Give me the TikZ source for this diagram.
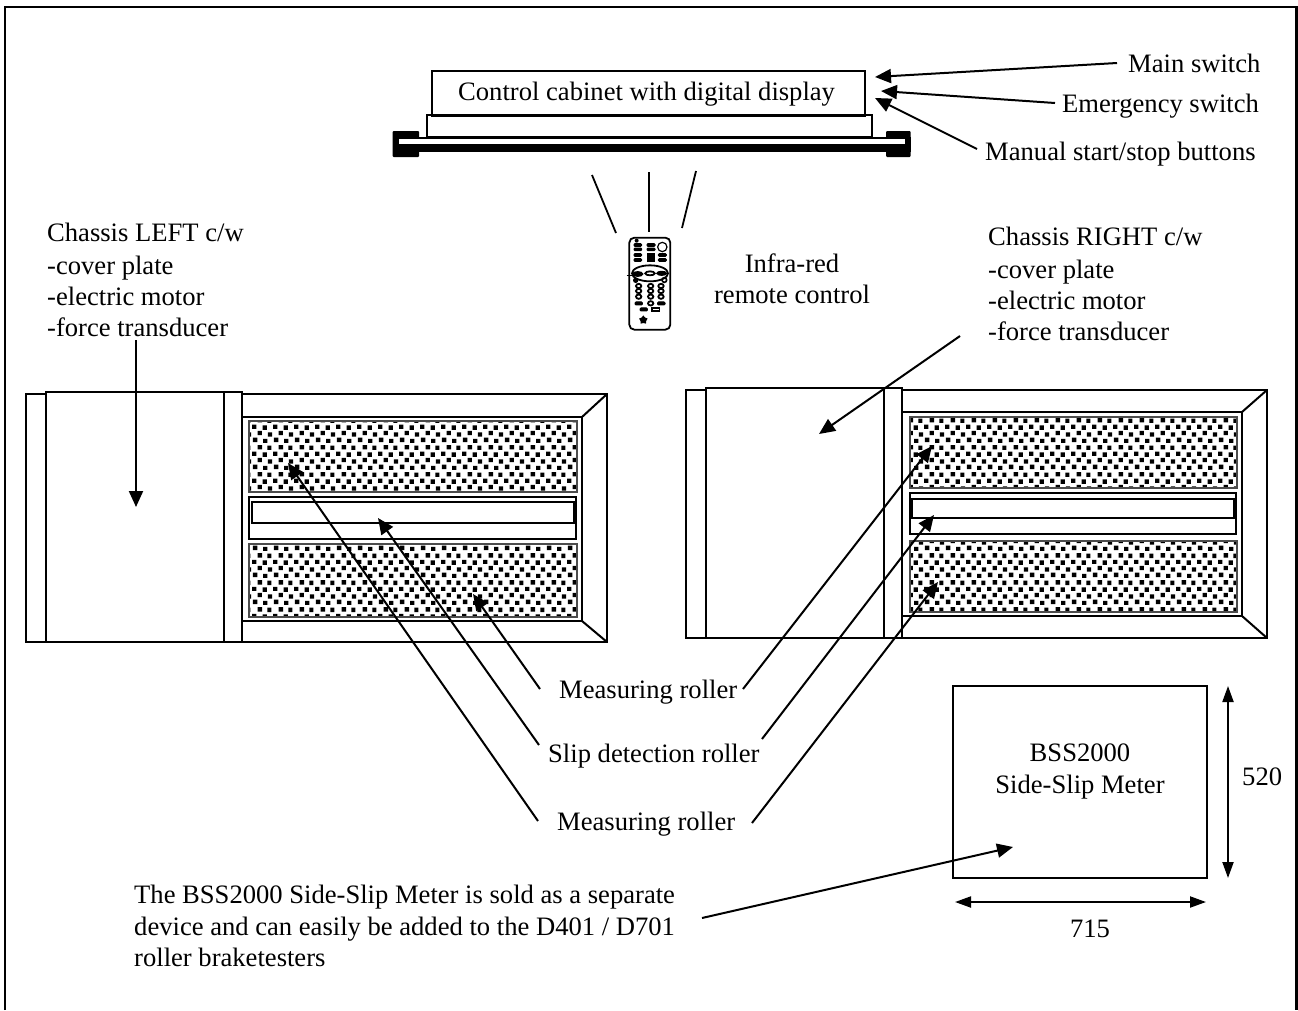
\documentclass[tikz,border=0pt]{standalone}
\usepackage{fontspec}
\setmainfont{Liberation Serif}
\usetikzlibrary{arrows.meta,patterns,shapes.geometric}
\pgfdeclarepatternformonly{stip}{\pgfqpoint{0pt}{0pt}}{\pgfqpoint{21pt}{27pt}}{\pgfqpoint{21pt}{27pt}}{%
  \pgfpathrectangle{\pgfqpoint{1pt}{1pt}}{\pgfqpoint{4.5pt}{4.5pt}}
  \pgfpathrectangle{\pgfqpoint{11.5pt}{0pt}}{\pgfqpoint{4.5pt}{4.2pt}}
  \pgfpathrectangle{\pgfqpoint{6pt}{8pt}}{\pgfqpoint{4.2pt}{4.5pt}}
  \pgfpathrectangle{\pgfqpoint{16.5pt}{6.5pt}}{\pgfqpoint{4.4pt}{4.5pt}}
  \pgfpathrectangle{\pgfqpoint{0pt}{14.5pt}}{\pgfqpoint{4.5pt}{4.2pt}}
  \pgfpathrectangle{\pgfqpoint{11pt}{13.5pt}}{\pgfqpoint{4.5pt}{4.5pt}}
  \pgfpathrectangle{\pgfqpoint{6pt}{21pt}}{\pgfqpoint{4.5pt}{4.5pt}}
  \pgfpathrectangle{\pgfqpoint{16pt}{20.5pt}}{\pgfqpoint{4.2pt}{4.5pt}}
  \pgfusepath{fill}}
\tikzset{
  x=1pt,y=-1pt,
  ln/.style={line width=2pt,draw=black,line cap=butt,line join=miter},
  arr/.style={line width=2pt,-{Triangle[length=16pt,width=14pt]}},
  dim/.style={line width=2pt,{Triangle[length=16pt,width=11pt]}-{Triangle[length=16pt,width=11pt]}},
  tick/.style={line width=1.8pt},
  lab/.style={anchor=base west,inner sep=0pt,font=\fontsize{26.6}{26.6}\selectfont},
  clab/.style={anchor=base,inner sep=0pt,font=\fontsize{26.6}{26.6}\selectfont},
  stipple/.style={draw=black!70,line width=1.4pt,pattern=stip,pattern color=black},
  pill/.style={fill=black,draw=black,rounded corners=1pt,line width=1pt},
}
\begin{document}
\begin{tikzpicture}
\useasboundingbox (0,0) rectangle (1298,1010);
% page frame
\draw[line width=2.2pt] (5,1010) -- (5,7) -- (1296.5,7) -- (1296.5,1010);

% control cabinet
\node[draw,ln,inner sep=0pt,minimum width=433pt,minimum height=45pt,anchor=north west] (cabinet) at (431,70) {};
\node[lab] (cabtxt) at (458,100) {Control cabinet with digital display};
\draw[ln] (427,115) rectangle (872,137);
% rail
\fill[rounded corners=1pt] (392.5,131) rectangle (419,157);
\fill[rounded corners=1pt] (886,131) rectangle (910.5,157);
\fill (392.5,136.5) rectangle (910.5,152);
\fill[white] (399,138.5) rectangle (905,144);

% labels top right
\node[lab] (mainsw) at (1128,72) {Main switch};
\node[lab] (emerg) at (1062,112) {Emergency switch};
\node[lab] (manual) at (985,160) {Manual start/stop buttons};
\coordinate (a1s) at (1117,63); \coordinate (a1e) at (875,77);
\coordinate (a2s) at (1055,103); \coordinate (a2e) at (881,91);
\coordinate (a3s) at (977,149); \coordinate (a3e) at (875,98);
\draw[arr] (a1s) -- (a1e);
\draw[arr] (a2s) -- (a2e);
\draw[arr] (a3s) -- (a3e);

% IR ticks
\coordinate (t1a) at (592,175); \coordinate (t1b) at (616,233);
\coordinate (t2a) at (649,172); \coordinate (t2b) at (649,232);
\coordinate (t3a) at (696,171); \coordinate (t3b) at (682,228);
\draw[tick] (t1a) -- (t1b);
\draw[tick] (t2a) -- (t2b);
\draw[tick] (t3a) -- (t3b);

% remote control
\begin{scope}[shift={(590,225)},x=.3333pt,y=-.3333pt]
  \draw[line width=1.8pt,rounded corners=5pt] (118,38) rectangle (241,314);
  \fill (140,47) circle (6);
  \foreach \y in {60,73,90,105} \draw[pill] (132,\y-4) rectangle (155,\y+4);
  \foreach \y in {60,73} \draw[pill] (171,\y-4) rectangle (195,\y+4);
  \fill (172,84) rectangle (194,112);
  \draw[line width=1.2pt] (217,66) circle (14);
  \foreach \y in {90,105} \draw[pill] (205,\y-4) rectangle (229,\y+4);
  \draw[line width=1.8pt] (180,145) ellipse (54 and 24);
  \draw[line width=1.8pt,fill=black] (143,147) ellipse (14 and 6);
  \draw[line width=1.8pt] (180,145) ellipse (14 and 6);
  \draw[line width=1.8pt,fill=black] (215,145) ellipse (13 and 5);
  \draw[line width=.7pt] (110,150) -- (135,150);
  \fill (137,166) circle (8);
  \draw[line width=1.6pt] (223,165) circle (7);
  \foreach \x in {146,182,213} \foreach \y in {183,198,215}
     \draw[line width=1.8pt] (\x,\y) ellipse (8 and 6.5);
  \draw[pill] (135,231) rectangle (157,240);
  \draw[line width=1.8pt] (182,235) ellipse (8 and 6.5);
  \draw[pill] (203,231) rectangle (225,240);
  \draw[pill] (150,249) rectangle (172,258);
  \draw[line width=1.6pt] (186,249) rectangle (208,258);
  \node[star,star points=5,fill=black,inner sep=0pt,minimum size=9pt] (rstar) at (160,285) {};
\end{scope}
\node[clab] (ir1) at (792,272) {Infra-red};
\node[clab] (ir2) at (792,303) {remote control};

% chassis left text
\node[lab] (cl1) at (47,241) {Chassis LEFT c/w};
\node[lab] (cl2) at (47,274) {-cover plate};
\node[lab] (cl3) at (47,305) {-electric motor};
\node[lab] (cl4) at (47,336) {-force transducer};
% chassis right text
\node[lab] (cr1) at (988,245) {Chassis RIGHT c/w};
\node[lab] (cr2) at (988,278) {-cover plate};
\node[lab] (cr3) at (988,309) {-electric motor};
\node[lab] (cr4) at (988,340) {-force transducer};

% left unit
\begin{scope}
  \draw[ln] (26,394) rectangle (46,642);
  \draw[ln] (46,392) rectangle (224,642);
  \draw[ln] (224,392) rectangle (242,642);
  \draw[ln] (242,394) -- (607,394) -- (607,642) -- (242,642);
  \draw[ln] (242,417) -- (582,417) -- (582,621) -- (242,621);
  \draw[ln] (607,394) -- (582,417);
  \draw[ln] (607,642) -- (582,621);
  \path[stipple] (249,421) rectangle (577,492);
  \path[stipple] (249,544) rectangle (577,617);
  \draw[ln] (249,497) rectangle (576,539);
  \draw[ln] (252,502) rectangle (574,523);
\end{scope}
% right unit
\begin{scope}
  \draw[ln] (686,390) rectangle (706,638);
  \draw[ln] (706,388) rectangle (884,638);
  \draw[ln] (884,388) rectangle (902,638);
  \draw[ln] (902,390) -- (1267,390) -- (1267,638) -- (902,638);
  \draw[ln] (902,412) -- (1242,412) -- (1242,616) -- (902,616);
  \draw[ln] (1267,390) -- (1242,412);
  \draw[ln] (1267,638) -- (1242,616);
  \path[stipple] (910,417) rectangle (1237,488);
  \path[stipple] (910,541) rectangle (1237,612);
  \draw[ln] (910,493) rectangle (1236,534);
  \draw[ln] (912,499) rectangle (1234,518);
\end{scope}

% roller labels
\node[lab] (mr1) at (559,698) {Measuring roller};
\node[lab] (sd) at (548,762) {Slip detection roller};
\node[lab] (mr2) at (557,830) {Measuring roller};

% arrows left
\coordinate (b0s) at (136,340); \coordinate (b0e) at (136,507);
\coordinate (b1s) at (540,689); \coordinate (b1e) at (473,594);
\coordinate (b2s) at (539,745); \coordinate (b2e) at (378,518);
\coordinate (b3s) at (538,821); \coordinate (b3e) at (288,463);
\draw[arr] (b0s) -- (b0e);
\draw[arr] (b1s) -- (b1e);
\draw[arr] (b2s) -- (b2e);
\draw[arr] (b3s) -- (b3e);
% arrows right
\coordinate (c0s) at (960,336); \coordinate (c0e) at (819,434);
\coordinate (c1s) at (743,689); \coordinate (c1e) at (932,446);
\coordinate (c2s) at (762,739); \coordinate (c2e) at (934,515);
\coordinate (c3s) at (752,823); \coordinate (c3e) at (938,582);
\draw[arr] (c0s) -- (c0e);
\draw[arr] (c1s) -- (c1e);
\draw[arr] (c2s) -- (c2e);
\draw[arr] (c3s) -- (c3e);

% BSS box
\draw[ln] (953,686) rectangle (1207,878);
\node[clab] (bss1) at (1080,761) {BSS2000};
\node[clab] (bss2) at (1080,793) {Side-Slip Meter};
\coordinate (d1a) at (1228,686); \coordinate (d1b) at (1228,878);
\coordinate (d2a) at (955,902); \coordinate (d2b) at (1206,902);
\draw[dim] (d1a) -- (d1b);
\draw[dim] (d2a) -- (d2b);
\node[lab] (h520) at (1242,785) {520};
\node[clab] (w715) at (1090,937) {715};

% note
\node[lab] (n1) at (134,903) {The BSS2000 Side-Slip Meter is sold as a separate};
\node[lab] (n2) at (134,935) {device and can easily be added to the D401 / D701};
\node[lab] (n3) at (134,966) {roller braketesters};
\coordinate (ns) at (702,918); \coordinate (ne) at (1013,847);
\draw[arr] (ns) -- (ne);
\end{tikzpicture}
\end{document}
